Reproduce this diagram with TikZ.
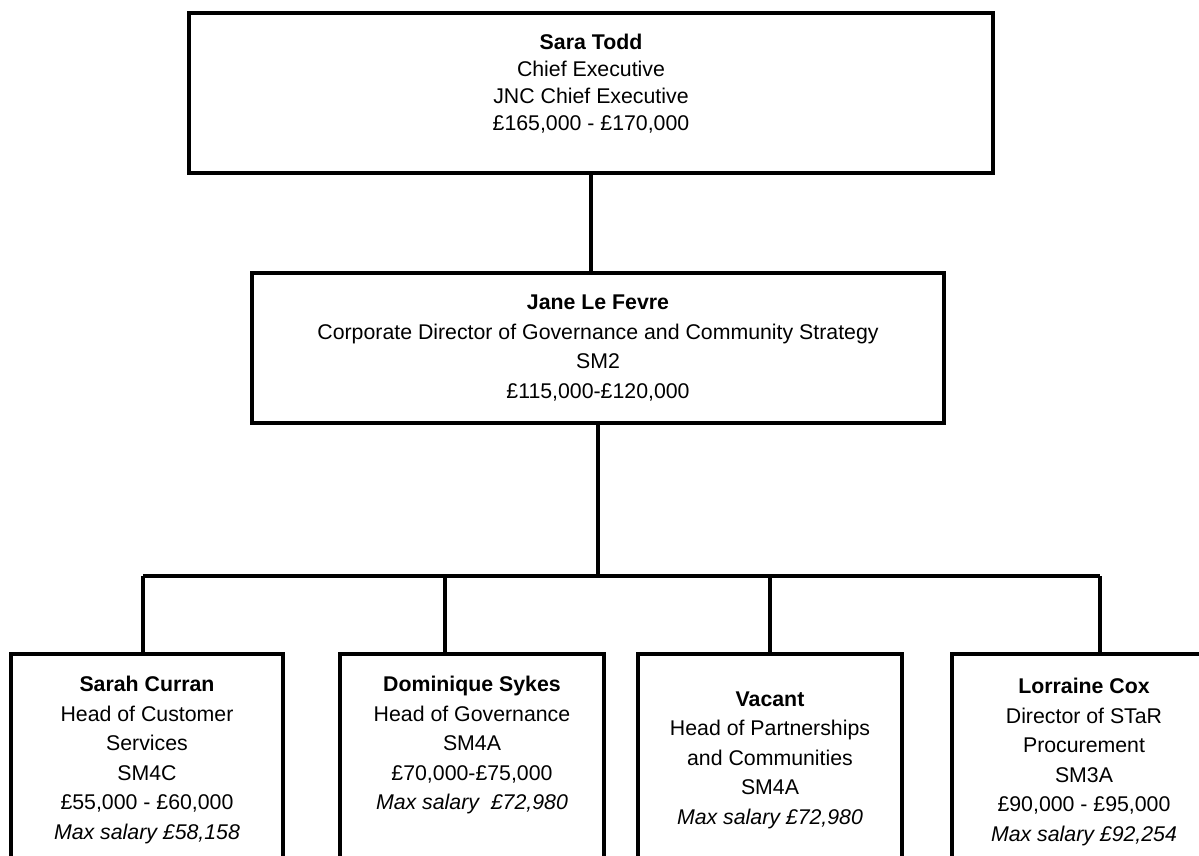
\documentclass[tikz,border=0pt]{standalone}
\usepackage{fontspec}
\setmainfont{Liberation Sans}
\usetikzlibrary{positioning}
\newcommand{\orgfont}{\fontsize{10.65}{14.75}\selectfont}
\newcommand{\topfont}{\fontsize{10.65}{13.5}\selectfont}

\begin{document}
\begin{tikzpicture}[x=0.5pt, y=-0.5pt,
    post/.style={draw, rectangle, line width=2pt, align=center, font=\orgfont},
    postframe/.style={draw, rectangle, line width=2pt, minimum width=132pt, minimum height=124pt, anchor=north},
    posttext/.style={align=center, font=\orgfont, inner sep=0pt},
    link/.style={line width=1.6pt}
]
\useasboundingbox (0,0) rectangle (1199,856);
\fill[white] (0,0) rectangle (1199,856);
\clip (0,0) rectangle (1199,856);

% Nodes
\node[post, minimum width=402pt, minimum height=80pt] (toddbox) at (591,93) {};
\node[posttext, font=\topfont, below=11.5pt of toddbox.north] (todd) {\textbf{Sara Todd}\\ Chief Executive\\ JNC Chief Executive\\ £165,000 - £170,000};
\node[post, minimum width=346pt, minimum height=75pt] (lefevre) at (598,348) {\textbf{Jane Le Fevre}\\ Corporate Director of Governance and Community Strategy\\ SM2\\ £115,000-£120,000};

% Bottom row boxes (cut off by the page edge)
\node[postframe, minimum width=136pt] (curranbox) at (147,652) {};
\node[postframe] (sykesbox) at (472,652) {};
\node[postframe] (vacantbox) at (770,652) {};
\node[postframe] (coxbox) at (1084,652) {};

\node[posttext, below=12pt of curranbox.north] (curran) {\textbf{Sarah Curran}\\ Head of Customer\\ Services\\ SM4C\\ £55,000 - £60,000\\ \textit{Max salary £58,158}};
\node[posttext, below=12pt of sykesbox.north] (sykes) {\textbf{Dominique Sykes}\\ Head of Governance\\ SM4A\\ £70,000-£75,000\\ \textit{Max salary~ £72,980}};
\node[posttext, below=19.5pt of vacantbox.north] (vacant) {\textbf{Vacant}\\ Head of Partnerships\\ and Communities\\ SM4A\\ \textit{Max salary £72,980}};
\node[posttext, below=13pt of coxbox.north] (cox) {\textbf{Lorraine Cox}\\ Director of STaR\\ Procurement\\ SM3A\\ £90,000 - £95,000\\ \textit{Max salary £92,254}};

% Bus line
\coordinate (busleft) at (143,576);
\coordinate (drop2) at (445,576);
\coordinate (drop3) at (770,576);
\coordinate (busright) at (1100,576);

% Edges
\draw[link] (toddbox.south) -- (toddbox.south |- lefevre.north);
\draw[link] (lefevre.south) -- (lefevre.south |- busleft);
\draw[link] (busleft) -- (busright);
\draw[link] (busleft) -- (busleft |- curranbox.north);
\draw[link] (drop2) -- (drop2 |- sykesbox.north);
\draw[link] (drop3) -- (drop3 |- vacantbox.north);
\draw[link] (busright) -- (busright |- coxbox.north);

\end{tikzpicture}
\end{document}
